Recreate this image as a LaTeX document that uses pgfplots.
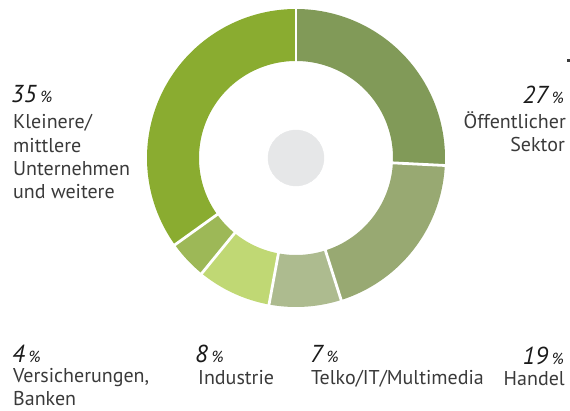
\documentclass[border=0pt]{standalone}
\usepackage{pgfplots}
\usepackage{pgfplotstable}
\pgfplotsset{compat=1.18}
\usepackage{fontspec}
\setmainfont{PT Sans}
\definecolor{c0}{HTML}{819A58}
\definecolor{c1}{HTML}{98A972}
\definecolor{c2}{HTML}{ADBB8F}
\definecolor{c3}{HTML}{C0D874}
\definecolor{c4}{HTML}{9DB857}
\definecolor{c5}{HTML}{8AAC30}
\definecolor{hole}{HTML}{E6E7E8}
\definecolor{txt}{HTML}{3A3A3A}
\definecolor{numc}{HTML}{1A1A1A}

% share of the ring drawn for each segment, clockwise from the top
\pgfplotstableread{
value
25.8
19.3
7.8
8.0
4.2
34.9
}\donutdata

\newcommand{\pnum}[1]{{\fontsize{24.5}{24}\selectfont\itshape #1}\hspace{4pt}{\fontsize{16}{16}\selectfont\itshape\%}}
\newcommand{\ltxt}{\fontsize{20}{23}\selectfont}

\begin{document}
\begin{tikzpicture}
\def\cum{0}
\gdef\plotcmds{}
\gdef\sepcmds{}
\pgfplotsforeachungrouped \i in {0,...,5}{%
  \pgfplotstablegetelem{\i}{value}\of\donutdata
  \pgfmathsetmacro{\a}{90-3.6*\cum}%
  \pgfmathsetmacro{\cum}{\cum+\pgfplotsretval}%
  \pgfmathsetmacro{\b}{90-3.6*\cum}%
  \xdef\plotcmds{\unexpanded\expandafter{\plotcmds}%
    \noexpand\addplot[color=c\i, line width=52pt, line join=round, domain=\b:\a, samples=80, variable=\noexpand\t]
      ({296+123*cos(\noexpand\t)},{253+123*sin(\noexpand\t)});}%
  \xdef\sepcmds{\unexpanded\expandafter{\sepcmds}%
    \noexpand\addplot[white, line width=2.8pt, domain=94:152, samples=2, variable=\noexpand\r]
      ({296+\noexpand\r*cos(\a)},{253+\noexpand\r*sin(\a)});}%
}
\begin{axis}[
  scale only axis, width=570pt, height=411pt,
  xmin=0, xmax=570, ymin=0, ymax=411,
  hide axis, clip=false,
]
\plotcmds
\sepcmds
\addplot[only marks, mark=*, mark size=28pt, color=hole] coordinates {(296,253)};
\addplot[only marks, mark=square*, mark size=1pt, color=numc!85] coordinates {(568,351)};

% left label
\node[anchor=base west, inner sep=0, text=numc] at (axis cs:11,308) {\pnum{35}};
\node[anchor=base west, inner sep=0, text=txt] at (axis cs:13,282) {\ltxt Kleinere/};
\node[anchor=base west, inner sep=0, text=txt] at (axis cs:13,258.5) {\ltxt mittlere};
\node[anchor=base west, inner sep=0, text=txt] at (axis cs:13,235.5) {\ltxt Unternehmen};
\node[anchor=base west, inner sep=0, text=txt] at (axis cs:13,212.5) {\ltxt und weitere};

% right label
\node[anchor=base east, inner sep=0, text=numc] at (axis cs:564,307) {\pnum{27}};
\node[anchor=base east, inner sep=0, text=txt] at (axis cs:566,282) {\ltxt Öffentlicher};
\node[anchor=base east, inner sep=0, text=txt] at (axis cs:565,259) {\ltxt Sektor};

% bottom labels
\node[anchor=base west, inner sep=0, text=numc] at (axis cs:12,48) {\pnum{4}};
\node[anchor=base west, inner sep=0, text=txt] at (axis cs:13,28) {\ltxt Versicherungen,};
\node[anchor=base west, inner sep=0, text=txt] at (axis cs:13,5) {\ltxt Banken};

\node[anchor=base west, inner sep=0, text=numc] at (axis cs:195,48) {\pnum{8}};
\node[anchor=base west, inner sep=0, text=txt] at (axis cs:198,26) {\ltxt Industrie};

\node[anchor=base west, inner sep=0, text=numc] at (axis cs:310,48) {\pnum{7}};
\node[anchor=base west, inner sep=0, text=txt] at (axis cs:311,26) {\ltxt Telko/IT/Multimedia};

\node[anchor=base east, inner sep=0, text=numc] at (axis cs:564,46.5) {\pnum{19}};
\node[anchor=base east, inner sep=0, text=txt] at (axis cs:565,25) {\ltxt Handel};
\end{axis}
\pgfresetboundingbox
\path[use as bounding box] (0,0) rectangle (570pt,411pt);
\end{tikzpicture}
\end{document}
